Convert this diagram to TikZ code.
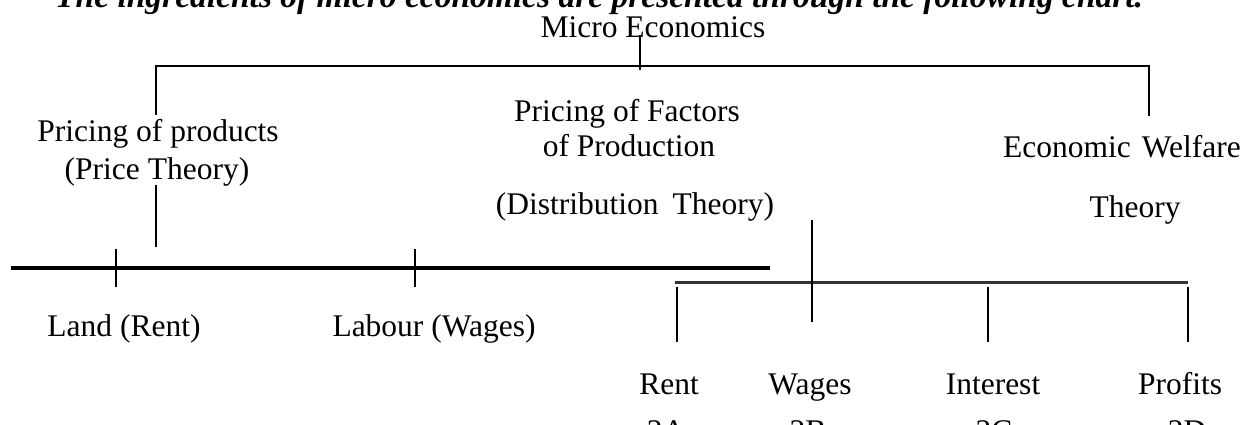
\documentclass[tikz,border=0pt]{standalone}
\usepackage{fontspec}
\setmainfont{Liberation Serif}
\begin{document}
\begin{tikzpicture}[x=1pt,y=-1pt,
  lbl/.style={inner sep=0pt, anchor=base, font=\fontsize{31.5}{36}\selectfont},
  ttl/.style={inner sep=0pt, anchor=base west, font=\fontsize{33.5}{38}\selectfont\bfseries\itshape},
  ln/.style={line width=2pt, black},
  heavyln/.style={line width=3.5pt, black},
  greyln/.style={line width=3pt, black!80}]
\useasboundingbox (0,0) rectangle (1249,424);
\fill[white] (0,0) rectangle (1249,424);

% texts
\node[ttl] (title) at (55,7) {The ingredients of micro economics are presented through the following chart.};
\node[lbl] (micro) at (653,37) {Micro Economics};
\node[lbl] (pp1) at (158,141) {Pricing of products};
\node[lbl] (pp2) at (157,179) {(Price Theory)};
\node[lbl] (pf1) at (627,121) {Pricing of Factors};
\node[lbl] (pf2) at (629,156) {of Production};
\node[lbl] (pf3) at (635,214) {(Distribution\hspace{0.45em}Theory)};
\node[lbl] (ew1) at (1122,157) {Economic\hspace{0.35em}Welfare};
\node[lbl] (ew2) at (1135,217) {Theory};
\node[lbl] (land) at (124,336) {Land (Rent)};
\node[lbl] (labour) at (434,336) {Labour (Wages)};
\node[lbl] (rent) at (669,394) {Rent};
\node[lbl] (wages) at (810,394) {Wages};
\node[lbl] (interest) at (993,394) {Interest};
\node[lbl] (profits) at (1180,394) {Profits};
\node[lbl] (a2) at (666,441) {2A};
\node[lbl] (b2) at (808,441) {2B};
\node[lbl] (c2) at (994,441) {2C};
\node[lbl] (d2) at (1187,441) {2D};

% coordinates
\coordinate (mt) at (640,35);
\coordinate (mb) at (640,70);
\coordinate (barL) at (156,66);
\coordinate (barR) at (1149,66);
\coordinate (dL) at (156,115);
\coordinate (dR) at (1149,116);
\coordinate (pt1) at (156,185);
\coordinate (pt2) at (156,247);
\coordinate (ll1) at (11,268);
\coordinate (ll2) at (770,268);
\coordinate (t1a) at (116,249);
\coordinate (t1b) at (116,287);
\coordinate (t2a) at (415,249);
\coordinate (t2b) at (415,287);
\coordinate (rv1) at (812,220);
\coordinate (rv2) at (812,322);
\coordinate (lb1) at (675,282);
\coordinate (lb2) at (1188,282);
\coordinate (da1) at (677,287);
\coordinate (da2) at (677,342);
\coordinate (dc1) at (988,287);
\coordinate (dc2) at (988,342);
\coordinate (dd1) at (1188,287);
\coordinate (dd2) at (1188,342);

% connectors
\draw[ln] (mt) -- (mb);
\draw[ln] (dL) -- (barL) -- (barR) -- (dR);
\draw[ln] (pt1) -- (pt2);
\draw[heavyln] (ll1) -- (ll2);
\draw[ln] (t1a) -- (t1b);
\draw[ln] (t2a) -- (t2b);
\draw[greyln] (lb1) -- (lb2);
\draw[ln] (rv1) -- (rv2);
\draw[ln] (da1) -- (da2);
\draw[ln] (dc1) -- (dc2);
\draw[ln] (dd1) -- (dd2);
\end{tikzpicture}
\end{document}
